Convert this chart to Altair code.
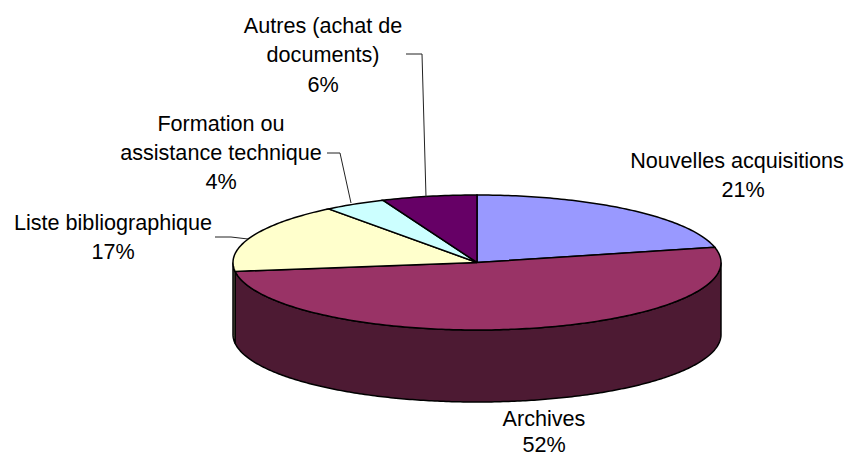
import numpy as np
import pandas as pd
import altair as alt

NAMES = ["Nouvelles acquisitions", "Archives", "Liste bibliographique",
         "Formation ou assistance technique", "Autres (achat de documents)"]
VALUES = [21.4, 51.5, 16.7, 4.1, 6.3]
TOP_COLORS = ["#9999FF", "#993366", "#FFFFCC", "#CCFFFF", "#660066"]
WALL_COLORS = ["#4D4D80", "#4D1A33", "#808066", "#668080", "#330033"]

CX, CY, RX, RY, DEPTH = 477.0, 262.5, 244.0, 67.5, 72.0
W, H = 838, 451

LABEL_LINES = ["Nouvelles acquisitions", "21%", "Archives", "52%",
               "Liste bibliographique", "17%", "Formation ou",
               "assistance technique", "4%", "Autres (achat de",
               "documents)", "6%"]
LABEL_X = [737, 743, 544, 544, 113, 113, 221, 221, 221, 323, 323, 323]
LABEL_Y = [162, 191, 420, 446, 224, 253, 125, 154, 183, 27, 56, 86]

LEADER_ID = ["a", "a", "a", "b", "b", "b", "c", "c", "c"]
LEADER_X = [215, 231, 248, 327, 340, 351, 406, 422, 426]
LEADER_Y = [237, 237, 239, 153, 153, 203, 54, 54, 197]

def pt(theta):
    t = np.radians(theta)
    return CX + RX * np.sin(t), CY - RY * np.cos(t)

tops, walls = [], []
start = 0.0
for name, v in zip(NAMES, VALUES):
    end = start + v * 3.6
    angles = np.linspace(start, end, max(int(v * 4), 3))
    seq = [(CX, CY)] + [pt(a) for a in angles] + [(CX, CY)]
    for i, (x, y) in enumerate(seq):
        tops.append(dict(name=name, x=x, y=y, i=i))
    lo, hi = max(start, 90.0), min(end, 270.0)
    if lo < hi:
        arc = np.linspace(lo, hi, max(int((hi - lo) * 1.5), 3))
        front = [pt(a) for a in arc]
        seq = front + [(x, y + DEPTH) for x, y in reversed(front)] + [front[0]]
        for i, (x, y) in enumerate(seq):
            walls.append(dict(name=name, x=x, y=y, i=i))
    start = end

xs = alt.Scale(domain=[8, 8 + W], range=[0, W])
ys = alt.Scale(domain=[8, 8 + H], range=[0, H])
X = alt.X("x:Q", scale=xs, axis=None)
Y = alt.Y("y:Q", scale=ys, axis=None)

wall = alt.Chart(pd.DataFrame(walls)).mark_line(stroke="black", strokeWidth=1.5).encode(
    x=X, y=Y, order="i:Q",
    fill=alt.Fill("name:N", scale=alt.Scale(domain=NAMES, range=WALL_COLORS), legend=None),
)
top = alt.Chart(pd.DataFrame(tops)).mark_line(stroke="black", strokeWidth=1.5).encode(
    x=X, y=Y, order="i:Q",
    fill=alt.Fill("name:N", scale=alt.Scale(domain=NAMES, range=TOP_COLORS), legend=None),
)
leaders = alt.Chart(pd.DataFrame(dict(id=LEADER_ID, x=LEADER_X, y=LEADER_Y))).mark_line(
    stroke="#222222", strokeWidth=1).encode(x=X, y=Y, detail="id:N", order=alt.Order("x:Q"))
labels = alt.Chart(pd.DataFrame(dict(t=LABEL_LINES, x=LABEL_X, y=LABEL_Y))).mark_text(
    font="Liberation Sans", fontSize=21.6, color="black", baseline="middle", align="center"
).encode(x=X, y=Y, text="t:N")

chart = alt.layer(wall, top, leaders, labels).resolve_scale(fill="independent").properties(
    width=W, height=H, padding=0, autosize=alt.AutoSizeParams(type="none"),
    background="white",
).configure_view(stroke=None)
chart.save("out.html", embed_options={"renderer": "svg", "actions": False})
